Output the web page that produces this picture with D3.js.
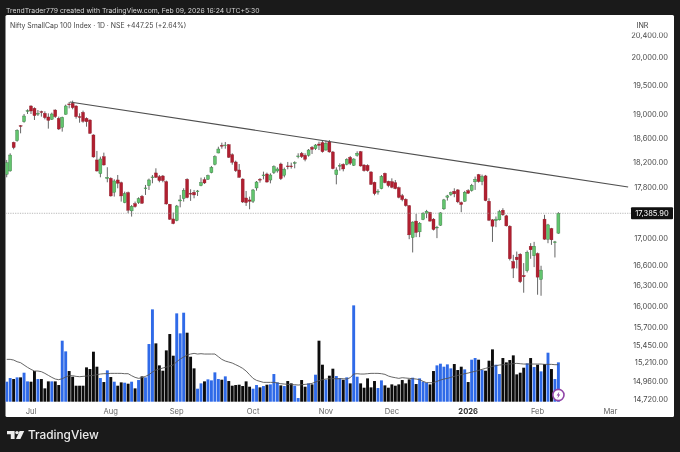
<!DOCTYPE html>
<html><head><meta charset="utf-8">
<script src="https://cdnjs.cloudflare.com/ajax/libs/d3/7.8.5/d3.min.js"></script>
<style>html,body{margin:0;padding:0;background:#1a1a1a;overflow:hidden}svg{display:block;filter:blur(0.35px)}</style>
</head><body><svg id="c" width="680" height="452"></svg>
<script>
const open=[18004,18058,18527,18555,18806,18873,19055,19141,19101,19004,
19044,19015,18953,18913,19072,18930,18778,18998,19175,19187,
19141,18959,19032,18930,18902,18650,18237,18015,18291,17935,
17940,17716,17913,17870,17553,17711,17423,17537,17553,17653,
17780,17822,17956,18026,17966,17977,17886,17527,17298,17272,
17579,17616,17924,17700,17716,17732,17822,17918,17924,18031,
18166,18351,18477,18477,18488,18324,18204,18074,17928,17626,
17595,17574,17785,17923,17982,18009,17912,18031,18058,18171,
17988,18139,18139,18187,18297,18346,18313,18313,18444,18422,
18499,18522,18400,18533,18368,17998,18144,18166,18166,18280,
18149,18313,18373,18155,18149,18042,17875,17727,17774,18020,
17891,17886,17870,17790,17663,17605,17505,17013,17265,17099,
17289,17387,17398,17295,17160,17201,17455,17638,17680,17733,
17754,17554,17575,17743,17743,17882,17999,17887,17978,17575,
17284,17270,17284,17434,17346,17186,16651,16716,16760,16444,
16513,16880,16736,16770,16385,17295,16987,17150,16936,17079];
const high=[18237,18346,18538,18745,18817,19004,19084,19152,19118,19072,
19061,19050,19015,19027,19084,18959,18959,19164,19210,19233,
19152,19015,19061,18947,18913,18661,18385,18291,18357,18118,
17956,17924,17993,17886,17727,17727,17516,17569,17637,17674,
17833,17935,17993,18101,17993,17993,17903,17532,17397,17516,
17674,17780,17940,17764,17753,17753,17950,17956,17999,18139,
18313,18455,18522,18533,18499,18346,18226,18171,17939,17737,
17647,17769,17896,17944,18047,18031,18020,18149,18117,18193,
18112,18204,18193,18215,18346,18368,18346,18417,18466,18499,
18538,18555,18555,18566,18385,18117,18182,18182,18264,18302,
18264,18379,18385,18166,18166,18052,17886,17764,17993,18031,
17901,17939,17912,17806,17690,17621,17515,17260,17377,17250,
17403,17439,17408,17310,17191,17403,17612,17675,17727,17780,
17765,17570,17738,17765,17850,17967,18010,17999,17994,17622,
17295,17336,17439,17465,17362,17201,16750,16800,16775,16627,
16815,16926,16946,16785,16587,17362,17222,17160,16961,17403];
const low=[17956,18047,18412,18538,18678,18856,19004,19004,18902,18970,
18959,18913,18756,18902,18936,18733,18706,18993,19101,19084,
18925,18856,18856,18789,18667,18275,18047,17956,18145,17876,
17648,17648,17780,17569,17543,17386,17335,17474,17532,17532,
17674,17753,17860,17945,17876,17876,17521,17283,17216,17262,
17479,17569,17621,17580,17621,17658,17812,17849,17913,18020,
18149,18346,18422,18422,18269,18160,18042,17950,17547,17501,
17449,17547,17742,17870,17923,17870,17859,18009,18031,17912,
17955,18085,18096,18101,18264,18269,18215,18291,18335,18400,
18400,18357,18389,18357,18085,17843,18063,18052,18149,18155,
18139,18291,18128,18047,18047,17832,17668,17679,17764,17859,
17796,17780,17764,17621,17574,17490,16987,16786,17018,17018,
17279,17310,17255,17120,17003,17191,17439,17585,17659,17638,
17544,17403,17565,17691,17727,17754,17871,17829,17575,17265,
16946,17171,17274,17346,17181,16666,16405,16547,16332,16191,
16488,16691,16567,16162,16147,16977,16926,16901,16711,17069];
const close=[18193,18318,18440,18728,18795,18970,19061,19055,18976,19015,
19038,18942,18896,19004,18959,18750,18947,19141,19164,19112,
18959,18953,18879,18873,18678,18286,18058,18253,18155,17956,
17658,17897,17860,17658,17695,17433,17495,17490,17616,17543,
17785,17913,17961,17956,17903,17903,17532,17293,17226,17500,
17595,17748,17632,17690,17674,17737,17870,17865,17983,18117,
18291,18417,18472,18483,18280,18198,18063,17955,17563,17553,
17574,17753,17880,17917,17993,17880,17993,18128,18090,17933,
18085,18128,18128,18193,18302,18291,18247,18400,18411,18483,
18477,18373,18511,18368,18096,18074,18149,18090,18247,18182,
18253,18346,18139,18063,18063,17843,17695,17732,17971,17870,
17822,17796,17774,17636,17600,17506,17053,17250,17089,17232,
17387,17418,17265,17135,17171,17392,17596,17659,17711,17691,
17565,17523,17717,17701,17829,17924,17887,17967,17585,17279,
17186,17295,17413,17362,17191,16691,16552,16676,16351,16424,
16790,16826,16880,16419,16523,16987,17206,16977,16946,17385.9];
const volume=[60,71,68,73,73,87,61,60,92,68,
68,40,61,61,61,50,183,151,92,75,
48,48,48,103,98,150,105,71,59,94,
74,60,48,58,57,54,60,40,65,76,
73,173,277,175,109,93,154,203,138,265,
205,267,207,135,100,39,55,61,67,64,
88,68,66,76,62,48,50,51,47,61,
45,39,50,43,47,51,52,83,58,49,
47,62,55,48,11,65,45,55,52,81,
183,111,66,78,99,77,71,66,73,55,
289,75,55,42,70,43,62,41,64,49,
42,52,48,52,65,55,67,72,53,70,
60,57,52,92,109,114,105,112,100,113,
95,105,97,59,126,131,126,95,93,123,
157,111,83,131,118,125,139,82,87,102,
115,131,104,111,91,113,147,98,68,118];
const volumeMA=[127,127,125,120,117,110,103,97,92,92,
90,85,79,73,68,66,69,74,78,78,
76,75,76,77,78,79,81,83,84,84,
85,85,85,85,84,84,78,73,70,72,
76,81,89,95,98,101,104,107,110,120,
128,134,140,143,145,143,144,143,143,143,
143,135,127,122,119,116,111,106,100,92,
81,70,64,61,58,58,58,58,56,54,
53,52,51,51,50,51,52,53,55,59,
63,66,68,69,69,69,69,69,68,72,
83,84,83,83,84,85,85,85,84,82,
77,74,72,70,72,71,70,69,68,66,
61,57,57,57,61,65,68,70,73,76,
79,81,84,86,89,91,94,97,100,103,
106,108,110,111,111,113,114,115,114,113,
113,113,113,113,113,112,112,112,111,111];
const priceTicks=[20400,20000,19500,19000,18600,18200,17800,17000,16600,16300,16000,15700,15450,15210,14960,14720];
const monthLabels=["Jul","Aug","Sep","Oct","Nov","Dec","2026","Feb","Mar"];
const monthIndex=[7,30,49,71,92,111,133,153,174];
const trendIndex=[18.2,179.1];
const trendPrice=[19210,17800];
const lastPrice=17385.90;

const svg=d3.select("#c");
const BG="#1a1a1a",UP="#62c46e",DOWN="#b01f30",VUP="#2f6ae8",VDN="#0c0c0c";
const FONT="Inter, 'Noto Sans', sans-serif";
const n=open.length;
const x=d3.scaleLinear().domain([0,n-1]).range([6.7,558.4]);
const y=d3.scaleLog().domain([14720,20000]).range([399,57]);
const yV=d3.scaleLinear().domain([0,300]).range([401.7,301.7]);
const idx=d3.range(n);

svg.append("rect").attr("width",680).attr("height",452).attr("fill",BG);
svg.append("rect").attr("x",5.5).attr("y",15).attr("width",668.5).attr("height",402).attr("rx",1.5).attr("fill","#fff");
svg.append("text").attr("x",6).attr("y",12.5).attr("fill","#d8d8d8").attr("font-family",FONT).attr("font-size",6.85)
 .text("TrendTrader779 created with TradingView.com, Feb 09, 2026 16:24 UTC+5:30");
svg.append("defs").append("clipPath").attr("id","pl").append("rect").attr("x",5.5).attr("y",15).attr("width",624).attr("height",390);
const g=svg.append("g").attr("clip-path","url(#pl)");

// last-price dotted line
svg.append("line").attr("x1",5.5).attr("x2",631).attr("y1",y(lastPrice)).attr("y2",y(lastPrice))
 .attr("stroke","#9a9a9a").attr("stroke-width",0.7).attr("stroke-dasharray","1.2 1.2");

// volume
g.selectAll(".v").data(idx).join("rect").attr("x",i=>x(i)-1.45).attr("width",2.9)
 .attr("y",i=>yV(volume[i])).attr("height",i=>yV(0)-yV(volume[i]))
 .attr("fill",i=>close[i]>=open[i]?VUP:VDN);
g.append("path").datum(idx).attr("fill","none").attr("stroke","#555").attr("stroke-width",0.9)
 .attr("d",d3.line().x(i=>x(i)).y(i=>yV(volumeMA[i])));

// candles
g.selectAll(".w").data(idx).join("line").attr("x1",i=>x(i)).attr("x2",i=>x(i))
 .attr("y1",i=>y(high[i])).attr("y2",i=>y(low[i])).attr("stroke","#555").attr("stroke-width",0.9);
g.selectAll(".b").data(idx).join("rect").attr("x",i=>x(i)-1.5).attr("width",3)
 .attr("y",i=>y(Math.max(open[i],close[i])))
 .attr("height",i=>Math.max(0.8,Math.abs(y(open[i])-y(close[i]))))
 .attr("fill",i=>close[i]>=open[i]?UP:DOWN)
 .attr("stroke",i=>close[i]>=open[i]?"#2f6b38":"#8a1a28").attr("stroke-width",0.35);

// trend line
svg.append("line").attr("x1",x(trendIndex[0])).attr("y1",y(trendPrice[0])).attr("x2",x(trendIndex[1])).attr("y2",y(trendPrice[1]))
 .attr("stroke","#4f4f4f").attr("stroke-width",1.1);

// price axis (clipped under the INR box)
const fmt=d3.format(",.2f");
svg.append("g").selectAll("text").data(priceTicks).join("text")
 .attr("x",668).attr("y",d=>y(d)+2.8).attr("text-anchor","end").attr("fill","#4a4a4a")
 .attr("font-family",FONT).attr("font-size",7.5).text(d=>fmt(d));
svg.append("rect").attr("x",632).attr("y",17).attr("width",41).attr("height",15.5).attr("fill","#fff");
svg.append("text").attr("x",636.5).attr("y",28).attr("fill","#444").attr("font-family",FONT).attr("font-size",7.2).text("INR");

// last price tag
svg.append("rect").attr("x",631).attr("y",y(lastPrice)-6).attr("width",42).attr("height",12).attr("rx",1).attr("fill","#111");
svg.append("text").attr("x",652).attr("y",y(lastPrice)+2.8).attr("text-anchor","middle").attr("fill","#fff")
 .attr("font-family",FONT).attr("font-size",7.5).text(fmt(lastPrice));

// time axis
svg.append("g").selectAll("text").data(monthLabels).join("text")
 .attr("x",(d,i)=>x(monthIndex[i])).attr("y",413.5).attr("text-anchor","middle")
 .attr("font-family",FONT).attr("font-size",7.6)
 .attr("font-weight",d=>d==="2026"?700:400).attr("fill",d=>d==="2026"?"#333":"#666").text(d=>d);

// title
svg.append("text").attr("x",10).attr("y",28).attr("fill","#444").attr("font-family",FONT).attr("font-size",6.9)
 .text("Nifty SmallCap 100 Index · 1D · NSE  +447.25 (+2.64%)");

// bolt marker
const mk=svg.append("g").attr("transform",`translate(${x(n-1)},395)`);
mk.append("circle").attr("r",5.6).attr("fill","#fff").attr("stroke","#9146a8").attr("stroke-width",1.6);
mk.append("path").attr("d","M1,-3.4 L-1.8,0.6 L-0.2,0.6 L-1,3.4 L1.8,-0.6 L0.2,-0.6 Z").attr("fill","#9146a8");

// logo
const lg=svg.append("g").attr("fill","#ececec");
lg.append("path").attr("d","M7,431 H14.6 V439 H10.8 V434.2 H7 Z");
lg.append("circle").attr("cx",17).attr("cy",432.6).attr("r",1.7);
lg.append("path").attr("d","M19.6,431 H24.2 L20.4,439 H16 Z");
svg.append("text").attr("x",28).attr("y",439.3).attr("fill","#ececec").attr("font-family","Inter, sans-serif")
 .attr("font-weight",500).attr("font-size",11.8).text("TradingView");
</script></body></html>
